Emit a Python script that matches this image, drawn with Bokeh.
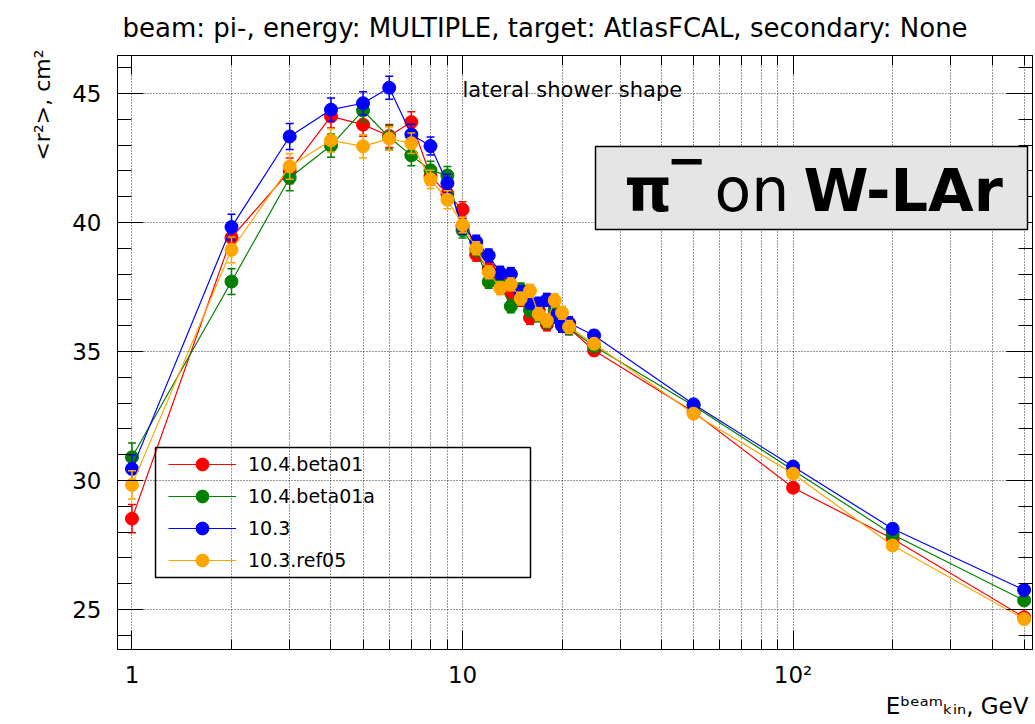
import numpy as np
from bokeh.plotting import figure
from bokeh.models import (Range1d, FixedTicker, SingleIntervalTicker, LogAxis, LinearAxis,
                          Label, BoxAnnotation, Legend, LegendItem, ColumnDataSource, Title)
from bokeh.embed import file_html
from bokeh.resources import INLINE

# ---------------- data ----------------
energies = [1, 2, 3, 4, 5, 6, 7, 8, 9, 10, 11, 12, 13, 14, 15, 16, 17, 18, 19, 20, 21,
            25, 50, 100, 200, 500]

r2_beta01 = [28.52, 39.41, 42.00, 44.11, 43.79, 43.35, 43.89, 41.80, 41.11, 40.50, 38.75,
             38.20, 37.75, 37.30, 37.00, 36.30, 36.60, 36.05, 36.40, 36.00, 35.90,
             35.04, 32.65, 29.72, 27.74, 24.70]
r2_beta01a = [30.90, 37.71, 41.73, 42.98, 44.34, 43.30, 42.60, 42.02, 41.82, 39.70, 38.95,
              37.70, 37.60, 36.75, 37.40, 36.60, 36.40, 36.15, 36.60, 36.10, 35.90,
              35.20, 32.90, 30.40, 27.91, 25.35]
r2_103 = [30.45, 39.82, 43.33, 44.37, 44.62, 45.22, 43.41, 42.96, 41.52, 39.85, 39.25,
          38.72, 38.05, 38.00, 37.30, 36.90, 36.85, 37.00, 36.35, 36.00, 36.10,
          35.62, 32.95, 30.54, 28.13, 25.76]
r2_103ref05 = [29.83, 38.94, 42.17, 43.18, 42.95, 43.25, 43.07, 41.67, 40.88, 39.90, 39.00,
               38.07, 37.45, 37.60, 37.05, 37.35, 36.45, 36.20, 36.98, 36.50, 35.95,
               35.30, 32.59, 30.26, 27.48, 24.63]
errors = [0.55, 0.50, 0.50, 0.45, 0.45, 0.45, 0.40, 0.35, 0.35, 0.30, 0.25, 0.25, 0.25,
          0.25, 0.25, 0.25, 0.25, 0.25, 0.25, 0.25, 0.25, 0.20, 0.10, 0.08, 0.06, 0.05]

series_names = ["10.4.beta01", "10.4.beta01a", "10.3", "10.3.ref05"]
series_values = [r2_beta01, r2_beta01a, r2_103, r2_103ref05]
series_colors = ["#ff0000", "#008000", "#0000ff", "#ffa500"]

x_major = [1, 10, 100]
x_minor = [2, 3, 4, 5, 6, 7, 8, 9, 20, 30, 40, 50, 60, 70, 80, 90, 200, 300, 400, 500]
x_labels = {1: "1", 10: "10", 100: "10²"}
y_major = [25, 30, 35, 40, 45]

FONT = "DejaVu Sans"

# ---------------- figure ----------------
p = figure(width=1035, height=724, x_axis_type="log",
           x_range=Range1d(0.904, 530), y_range=Range1d(23.45, 46.47),
           output_backend="svg", toolbar_location=None,
           min_border_left=117, min_border_right=3, min_border_top=55, min_border_bottom=75)
p.background_fill_color = "white"
p.border_fill_color = "white"
p.outline_line_color = "black"
p.outline_line_width = 1

xt = FixedTicker(ticks=x_major, minor_ticks=x_minor)
yt = SingleIntervalTicker(interval=5, num_minor_ticks=5)

p.xaxis.ticker = xt
p.yaxis.ticker = yt
p.xaxis.major_label_overrides = x_labels

for ax in (p.xaxis[0], p.yaxis[0]):
    ax.axis_line_color = "black"
    ax.major_tick_line_color = "black"
    ax.minor_tick_line_color = "black"
    ax.major_tick_out = 0
    ax.minor_tick_out = 0
    ax.major_label_text_font = FONT
    ax.major_label_text_font_size = "23px"
    ax.major_label_text_color = "black"

p.xaxis.major_tick_in = 19
p.xaxis.minor_tick_in = 10
p.xaxis.major_label_standoff = 12
p.yaxis.major_tick_in = 26
p.yaxis.minor_tick_in = 14
p.yaxis.major_label_standoff = 16

top_ax = LogAxis(ticker=xt, major_tick_in=19, minor_tick_in=10, major_tick_out=0,
                 minor_tick_out=0, major_label_standoff=0, axis_line_color="black",
                 major_label_overrides={t: "" for t in x_major})
p.add_layout(top_ax, "above")
right_ax = LinearAxis(ticker=yt, major_tick_in=26, minor_tick_in=14, major_tick_out=0,
                      minor_tick_out=0, major_label_standoff=0, axis_line_color="black",
                      major_label_overrides={t: "" for t in y_major})
p.add_layout(right_ax, "right")

p.xgrid.grid_line_color = "black"
p.xgrid.grid_line_dash = "1 2"
p.xgrid.grid_line_alpha = 0.8
p.xgrid.minor_grid_line_color = "black"
p.xgrid.minor_grid_line_dash = "1 2"
p.xgrid.minor_grid_line_alpha = 0.8
p.ygrid.grid_line_color = "black"
p.ygrid.grid_line_dash = "1 2"
p.ygrid.grid_line_alpha = 0.8

# ---------------- titles (outside the frame) ----------------
p.title.text = "beam: pi-, energy: MULTIPLE, target: AtlasFCAL, secondary: None"
p.title.text_font = FONT
p.title.text_font_size = "26px"
p.title.text_font_style = "normal"
p.title.text_color = "black"
p.title.align = "left"
p.title.offset = 5
p.title.vertical_align = "top"
p.title.standoff = 22

ytitle = Title(text="<r²>, cm²", align="right", offset=-6, text_font=FONT,
               text_font_size="22px", text_font_style="normal", text_color="black",
               standoff=30)
p.add_layout(ytitle, "left")

xtitle = Title(text="Eᵇᵉᵃᵐₖᵢₙ, GeV", align="right", offset=4, text_font=FONT,
               text_font_size="23px", text_font_style="normal", text_color="black",
               standoff=0)
p.add_layout(xtitle, "below")

# ---------------- series ----------------
items = []
for name, vals, color in zip(series_names, series_values, series_colors):
    lo = [v - e for v, e in zip(vals, errors)]
    hi = [v + e for v, e in zip(vals, errors)]
    src = ColumnDataSource(dict(x=energies, y=vals, lo=lo, hi=hi))
    ln = p.line("x", "y", source=src, line_color=color, line_width=1.2)
    p.segment(x0="x", y0="lo", x1="x", y1="hi", source=src, line_color=color, line_width=1.5)
    p.scatter("x", "lo", source=src, marker="dash", size=8, line_color=color, line_width=1.5)
    p.scatter("x", "hi", source=src, marker="dash", size=8, line_color=color, line_width=1.5)
    pts = p.scatter("x", "y", source=src, marker="circle", size=13,
                    fill_color=color, line_color=color)
    items.append(LegendItem(label=name, renderers=[ln, pts]))

# legend frame
p.add_layout(BoxAnnotation(left=38, right=413, top=202, bottom=72,
                           left_units="screen", right_units="screen",
                           top_units="screen", bottom_units="screen",
                           fill_alpha=0, line_color="black", line_alpha=1.0, line_width=1.5))
legend = Legend(items=items, location=(51, 73), border_line_color=None,
                background_fill_alpha=0, glyph_width=68, glyph_height=32, spacing=0,
                padding=0, margin=0, label_standoff=12, label_text_font=FONT,
                label_text_font_size="19px", label_text_color="black")
p.add_layout(legend)

# ---------------- texts inside the frame ----------------
def lab(text, x, y, size, style="normal"):
    # y is the wanted baseline height above the frame bottom; compensate Bokeh's offset
    p.add_layout(Label(x=x, y=y + 0.38 * size, x_units="screen", y_units="screen", text=text,
                       text_font=FONT, text_font_size=f"{size}px", text_font_style=style,
                       text_align="left", text_baseline="alphabetic", text_color="black"))

lab("lateral shower shape", 345, 552, 21)

# pi- on W-LAr box
p.add_layout(BoxAnnotation(left=478, right=910, top=503, bottom=420,
                           left_units="screen", right_units="screen",
                           top_units="screen", bottom_units="screen",
                           fill_color="#e5e5e5", fill_alpha=1.0,
                           line_color="black", line_alpha=1.0, line_width=1.5))
lab("π", 507, 437, 60, "bold")
lab("−", 549, 472, 48, "bold")
lab("on", 597, 437, 60)
lab("W-LAr", 686, 437, 59, "bold")

open("out.html", "w").write(file_html(p, INLINE))
